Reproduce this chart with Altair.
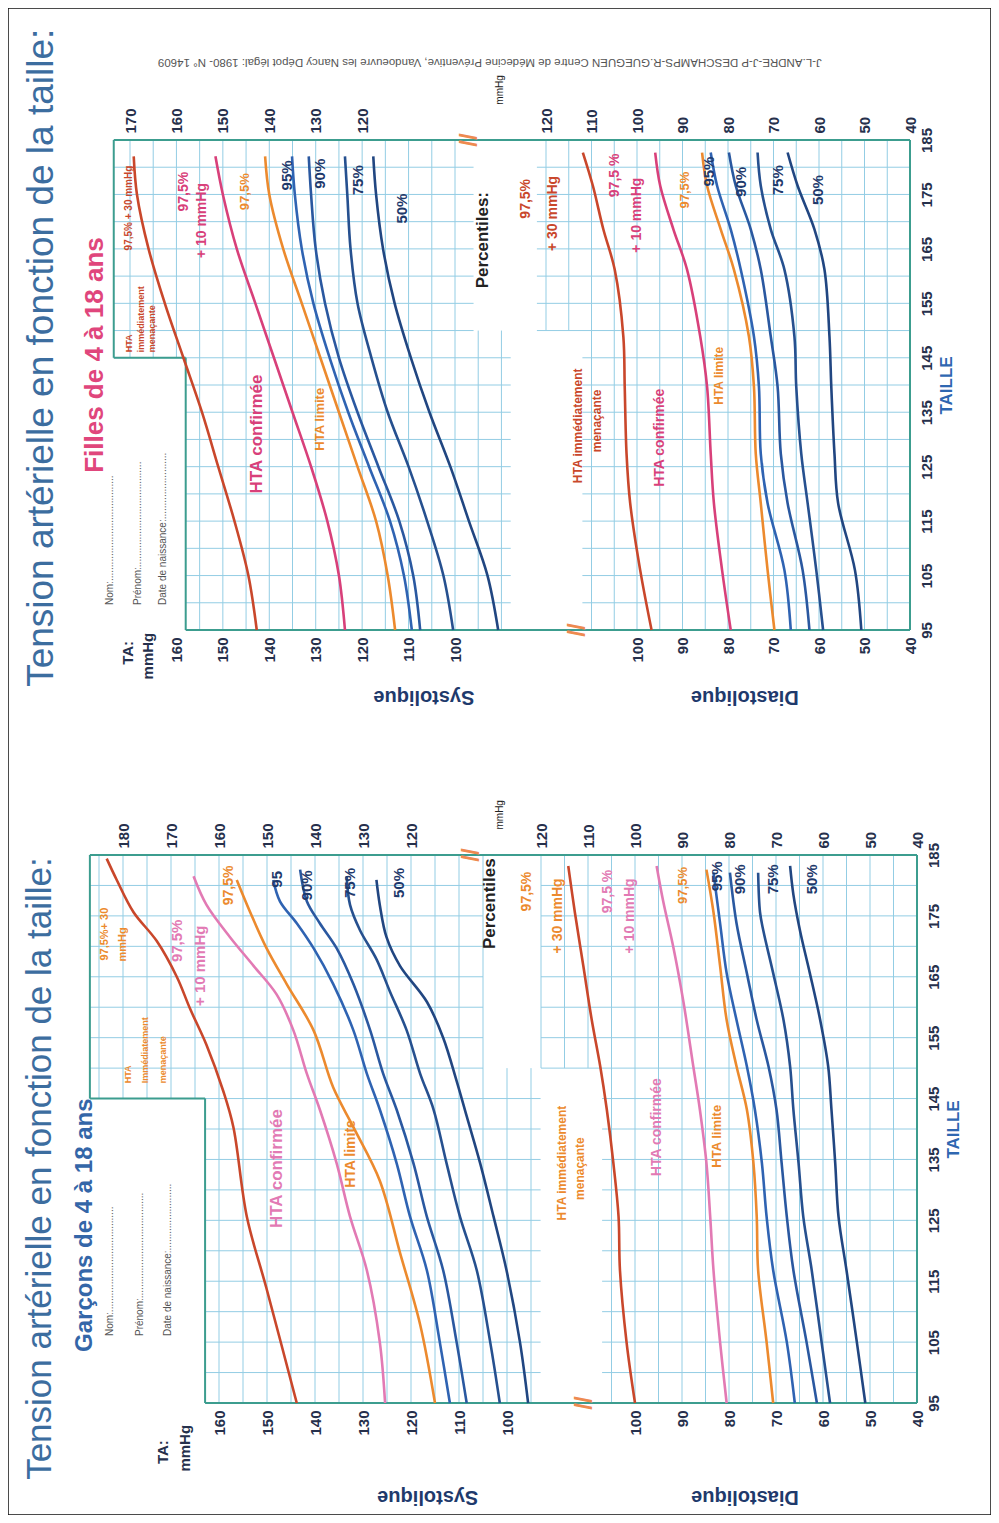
import altair as alt
import pandas as pd

W, H = 983, 1507
OFF = 8
FONT = "Liberation Sans"

# ---------------- values ----------------
# Girls (Filles) - systolic, mmHg vs height (cm)
G_SYS_T = [95, 105, 115, 125, 135, 145, 155, 165, 175, 182]
G_SYS_P30 = [142.7, 144.5, 147.5, 151, 154.5, 158.5, 162.5, 166, 168.5, 169.2]
G_SYS_P10 = [123.7, 125, 127.5, 131, 135, 139, 143, 147, 150, 151.6]
G_SYS_975 = [112.9, 114.5, 117, 121, 125, 129, 133, 137, 140, 140.9]
G_SYS_95 = [109.3, 111, 114, 118.5, 123, 127, 130.5, 133, 134.5, 135.1]
G_SYS_90 = [107.5, 109, 112, 116.5, 121, 125, 128, 130, 131, 131.5]
G_SYS_75 = [100.4, 102.5, 106, 110, 114.5, 118, 121, 122.5, 123.2, 123.7]
G_SYS_50 = [90.7, 93, 97, 101, 105.5, 109.5, 113, 115.5, 117, 117.6]

# Girls - diastolic
G_DIA_T = [95, 106, 118.3, 127.4, 139.7, 148.9, 161.2, 168.6, 176.6, 182.7]
G_DIA_P30 = [96.8, 99.3, 101.5, 102.3, 102.7, 103, 104.9, 107.4, 109.7, 111.9]
G_DIA_P10 = [79.4, 81.3, 83.1, 83.8, 84.6, 86.1, 89, 92, 94.9, 96]
G_DIA_975 = [69.8, 71.3, 72.8, 73.9, 74.3, 75.4, 78.7, 81.6, 84.6, 85.7]
G_DIA_95 = [66.2, 67.6, 71.3, 72.8, 73.2, 74.3, 77.2, 79.4, 82.4, 83.8]
G_DIA_90 = [62.1, 63.6, 66.9, 68.4, 69.1, 70.6, 72.8, 75, 78.3, 79.8]
G_DIA_75 = [59.1, 60.6, 62.5, 63.9, 65, 65.4, 67.6, 70.6, 72.8, 73.5]
G_DIA_50 = [50.7, 52.1, 55.8, 56.6, 57.3, 57.7, 58.8, 61, 64.7, 66.9]

# Boys (Garçons) - systolic
B_SYS_P30_T = [95, 113.8, 125.6, 140.3, 146.2, 153.8, 159.7, 165, 170.9, 175.6, 180.9, 184.4]
B_SYS_P30 = [143.8, 150.1, 154.2, 157, 159.1, 162.6, 166, 168.8, 173, 177.8, 181.3, 183.4]
B_SYS_P10_T = [95, 105, 116.8, 125.6, 134.4, 143.2, 149.1, 156.2, 162.1, 166.8, 171.5, 176.8, 181.5]
B_SYS_P10 = [125.4, 126.5, 129.2, 132.7, 135.5, 139, 141.7, 144.5, 148, 152.8, 157.7, 162.6, 165.3]
B_SYS_975_T = [95, 107.9, 119.7, 131.5, 140.3, 146.8, 156.2, 163.8, 169.7, 175.6, 180.9]
B_SYS_975 = [115, 118.1, 122.3, 126.5, 132, 136.2, 140.3, 145.9, 150.1, 153.5, 156.3]
B_SYS_95_T = [95, 105, 116.8, 125.6, 134.4, 143.2, 149.1, 156.2, 163.8, 169.7, 173.8, 177.4, 180.9]
B_SYS_95 = [111.9, 114, 116.7, 120.2, 123, 126.5, 129.2, 132, 136.2, 140.3, 143.8, 147.3, 148.7]
B_SYS_90_T = [95, 105, 116.8, 125.6, 134.4, 143.2, 149.1, 156.2, 163.8, 169.7, 173.8, 177.4, 182.6]
B_SYS_90 = [108.4, 110.5, 113.3, 116.7, 119.5, 123, 125.8, 128.5, 132, 135.5, 139, 141.7, 143.1]
B_SYS_75_T = [95, 105, 116.8, 125.6, 134.4, 143.2, 149.1, 156.2, 162.6, 167.9, 172.6, 176.8, 181.5]
B_SYS_75 = [101.5, 103.5, 106.3, 109.8, 112.6, 115.3, 118.1, 120.9, 124.4, 127.2, 130.6, 132.7, 133.4]
B_SYS_50_T = [95, 105, 116.8, 125.6, 134.4, 142.1, 147.9, 155, 160.9, 166.8, 171.5, 176.8, 180.9]
B_SYS_50 = [95.6, 97.3, 100.1, 102.8, 105.6, 108.4, 110.5, 113.3, 116.7, 122.3, 125.1, 126.5, 127.2]

# Boys - diastolic
B_DIA_P30_T = [95, 105, 116.8, 125.6, 134.4, 143.2, 150.3, 157.9, 166.8, 175.6, 183.2]
B_DIA_P30 = [100, 101.8, 103.2, 103.5, 104.6, 106, 107.4, 109.2, 111, 112.8, 114.2]
B_DIA_P10_T = [95, 105, 116.8, 125.6, 134.4, 143.2, 150.3, 160.9, 169.7, 177.4, 183.2]
B_DIA_P10 = [80.5, 81.9, 83.3, 84, 84.8, 86.2, 87.6, 89.7, 91.8, 94, 95.4]
B_DIA_975_T = [95, 105, 116.8, 125.6, 134.4, 143.2, 150.3, 157.9, 166.8, 175.6, 182.6]
B_DIA_975 = [70.6, 72, 73.8, 74.1, 74.8, 76.2, 78.4, 80.5, 81.9, 83.3, 84.8]
B_DIA_95_T = [95, 105, 116.8, 125.6, 134.4, 143.2, 150.3, 157.9, 165.6, 173.8, 182.1]
B_DIA_95 = [66, 67.7, 70.6, 72, 73, 74.5, 76.2, 78.4, 80.5, 81.9, 83.3]
B_DIA_90_T = [95, 105, 116.8, 125.6, 134.4, 143.2, 150.3, 157.9, 165.6, 173.8, 182.1]
B_DIA_90 = [61.3, 63.5, 66.3, 67.7, 68.8, 69.9, 71.6, 74.1, 76.2, 78.4, 79.8]
B_DIA_75_T = [95, 105, 116.8, 125.6, 134.4, 143.2, 150.3, 157.9, 165.6, 172.6, 175.6, 182.1]
B_DIA_75 = [58.5, 60.3, 62.4, 64.2, 65.2, 66.3, 67, 68.4, 70.6, 72.7, 73.4, 73.8]
B_DIA_50_T = [95, 105, 116.8, 125.6, 134.4, 143.2, 150.3, 157.9, 165.6, 172.6, 178.5, 183.2]
B_DIA_50 = [51, 52.8, 55, 56.7, 57.4, 58.2, 58.9, 60.6, 62.8, 64.9, 66.3, 67]

# tick labels
TAILLE_TICKS = [95, 105, 115, 125, 135, 145, 155, 165, 175, 185]
G_SYS_BOTTOM = [160, 150, 140, 130, 120, 110, 100]
G_SYS_TOP = [170, 160, 150, 140, 130, 120]
B_SYS_BOTTOM = [160, 150, 140, 130, 120, 110, 100]
B_SYS_TOP = [180, 170, 160, 150, 140, 130, 120]
DIA_BOTTOM = [100, 90, 80, 70, 60, 50, 40]
DIA_TOP = [120, 110, 100, 90, 80, 70, 60, 50, 40]

# ---------------- colours ----------------
RED = "#c9472b"
PINK_G = "#d8407a"
PINK_B = "#e27ab4"
ORANGE = "#ec8a2e"
BLUES = {"95": "#2f63b2", "90": "#2a58a0", "75": "#26508f", "50": "#214681"}
GRID = "#93cde4"
FRAME = "#3c9d8f"
LABEL = "#26304c"
NAVY = "#1f3a6c"
TITLE_C = "#3c6d9f"

# ---------------- panel geometry (page pixels) ----------------
PANELS = {
    "G": dict(y95=630, y185=140, sys=((170, 130), (100, 455)), dia=((120, 546), (40, 910)),
              lower=158, upper=173.5, notch=145,
              sys_end_lo=88, sys_end_hi=96, dia_start_lo=112, dia_start_hi=122, split=150,
              right_x=912),
    "B": dict(y95=1403, y185=855, sys=((180, 123), (100, 507)), dia=((120, 541), (40, 917)),
              lower=162.9, upper=186.9, notch=145,
              sys_end_lo=93, sys_end_hi=105, dia_start_lo=107, dia_start_hi=120, split=150,
              right_x=919),
}


def xsc(p, kind):
    (v1, x1), (v2, x2) = PANELS[p][kind]
    return alt.Scale(domain=[v1, v2], range=[x1 - OFF, x2 - OFF], nice=False, zero=False)


def ysc(p):
    g = PANELS[p]
    return alt.Scale(domain=[95, 185], range=[g["y95"] - OFF, g["y185"] - OFF], nice=False, zero=False)


def curve(p, kind, t, v, color, width=2.6):
    df = pd.DataFrame({"t": t, "v": v})
    return alt.Chart(df).mark_line(color=color, strokeWidth=width, interpolate="catmull-rom").encode(
        x=alt.X("v:Q", scale=xsc(p, kind), axis=None),
        y=alt.Y("t:Q", scale=ysc(p), axis=None),
        order="t:Q",
    )


def vrules(p, kind, rows, color, width):
    df = pd.DataFrame(rows, columns=["v", "t1", "t2"])
    return alt.Chart(df).mark_rule(color=color, strokeWidth=width).encode(
        x=alt.X("v:Q", scale=xsc(p, kind), axis=None),
        y=alt.Y("t1:Q", scale=ysc(p), axis=None),
        y2="t2:Q",
    )


def hrules(p, kind, rows, color, width):
    df = pd.DataFrame(rows, columns=["t", "v1", "v2"])
    return alt.Chart(df).mark_rule(color=color, strokeWidth=width).encode(
        x=alt.X("v1:Q", scale=xsc(p, kind), axis=None),
        x2="v2:Q",
        y=alt.Y("t:Q", scale=ysc(p), axis=None),
    )


def texts(p, kind, rows, color, size, weight="bold", angle=270, align="center",
          baseline="middle", font=FONT):
    df = pd.DataFrame(rows, columns=["label", "v", "t"])
    return alt.Chart(df).mark_text(angle=angle, align=align, baseline=baseline, color=color,
                                   fontSize=size, fontWeight=weight, font=font).encode(
        x=alt.X("v:Q", scale=xsc(p, kind), axis=None),
        y=alt.Y("t:Q", scale=ysc(p), axis=None),
        text="label:N",
    )


def x_axis(p, kind, ticks, orient):
    g = PANELS[p]
    if orient == "bottom":
        offset = (g["y95"] - OFF) - H
        align = "right"
    else:
        offset = -(g["y185"] - OFF)
        align = "left"
    ax = alt.Axis(values=ticks, orient=orient, offset=offset, labelAngle=270, labelAlign=align,
                  labelBaseline="middle", ticks=False, domain=False, grid=False, title=None,
                  labelFont=FONT, labelFontSize=15, labelFontWeight="bold", labelColor=LABEL,
                  labelPadding=7, labelOverlap=False, labelFlush=False)
    df = pd.DataFrame({"v": ticks, "t": [140] * len(ticks)})
    return alt.Chart(df).mark_point(opacity=0).encode(
        x=alt.X("v:Q", scale=xsc(p, kind), axis=ax),
        y=alt.Y("t:Q", scale=ysc(p), axis=None),
    )


def taille_axis(p):
    g = PANELS[p]
    ax = alt.Axis(values=TAILLE_TICKS, orient="right", offset=(g["right_x"] - OFF) - W,
                  labelAngle=270, labelAlign="center", labelBaseline="top", ticks=False,
                  domain=False, grid=False, title="TAILLE", titleAngle=270, titleBaseline="top",
                  titleColor="#2f67b1", titleFont=FONT, titleFontSize=17, titleFontWeight="bold",
                  titlePadding=4, labelFont=FONT, labelFontSize=15, labelFontWeight="bold",
                  labelColor=LABEL, labelPadding=7, labelOverlap=False, labelFlush=False)
    df = pd.DataFrame({"t": TAILLE_TICKS, "v": [40] * len(TAILLE_TICKS)})
    return alt.Chart(df).mark_point(opacity=0).encode(
        x=alt.X("v:Q", scale=xsc(p, "dia"), axis=None),
        y=alt.Y("t:Q", scale=ysc(p), axis=ax),
    )


def grid_and_frame(p, sys_grid, dia_grid):
    g = PANELS[p]
    lo, up, notch, split = g["lower"], g["upper"], g["notch"], g["split"]
    vs = []
    for v in sys_grid:
        if v < g["sys_end_lo"]:
            continue
        t1 = 95 if v <= lo else notch
        t2 = 185 if v >= g["sys_end_hi"] else split
        vs.append((v, t1, t2))
    vd = []
    for v in dia_grid:
        if v > g["dia_start_hi"]:
            continue
        t1 = 95 if v <= g["dia_start_lo"] else split
        vd.append((v, t1, 185))
    hs, hd = [], []
    for t in range(100, 185, 5):
        left = up if t >= notch else lo
        hi = t >= split
        hs.append((t, left, g["sys_end_hi"] if hi else g["sys_end_lo"]))
        hd.append((t, g["dia_start_hi"] if hi else g["dia_start_lo"], 40))
    return [
        vrules(p, "sys", vs, GRID, 1),
        vrules(p, "dia", vd, GRID, 1),
        hrules(p, "sys", hs, GRID, 1),
        hrules(p, "dia", hd, GRID, 1),
        vrules(p, "sys", [(up, notch, 185), (lo, 95, notch)], FRAME, 2),
        hrules(p, "sys", [(notch, up, lo), (185, up, 80), (95, lo, 80)], FRAME, 2),
        hrules(p, "dia", [(185, 130, 40), (95, 130, 40)], FRAME, 2),
        vrules(p, "dia", [(40, 95, 185)], FRAME, 2),
    ]


DOTS = "......................................"
layers = []

# ================= GIRLS =================
p = "G"
layers += grid_and_frame(p, list(range(85, 171, 5)), list(range(40, 126, 5)))
layers += [
    curve(p, "sys", G_SYS_T, G_SYS_50, BLUES["50"]),
    curve(p, "sys", G_SYS_T, G_SYS_75, BLUES["75"]),
    curve(p, "sys", G_SYS_T, G_SYS_90, BLUES["90"]),
    curve(p, "sys", G_SYS_T, G_SYS_95, BLUES["95"]),
    curve(p, "sys", G_SYS_T, G_SYS_975, ORANGE),
    curve(p, "sys", G_SYS_T, G_SYS_P10, PINK_G),
    curve(p, "sys", G_SYS_T, G_SYS_P30, RED),
    curve(p, "dia", G_DIA_T, G_DIA_50, BLUES["50"]),
    curve(p, "dia", G_DIA_T, G_DIA_75, BLUES["75"]),
    curve(p, "dia", G_DIA_T, G_DIA_90, BLUES["90"]),
    curve(p, "dia", G_DIA_T, G_DIA_95, BLUES["95"]),
    curve(p, "dia", G_DIA_T, G_DIA_975, ORANGE),
    curve(p, "dia", G_DIA_T, G_DIA_P10, PINK_G),
    curve(p, "dia", G_DIA_T, G_DIA_P30, RED),
    x_axis(p, "sys", G_SYS_BOTTOM, "bottom"),
    x_axis(p, "dia", DIA_BOTTOM, "bottom"),
    x_axis(p, "sys", G_SYS_TOP, "top"),
    x_axis(p, "dia", DIA_TOP, "top"),
    taille_axis(p),
    texts(p, "sys", [("HTA confirmée", 142.7, 131)], PINK_G, 17),
    texts(p, "sys", [("HTA limite", 129, 133.7)], ORANGE, 13),
    texts(p, "sys", [("97,5%", 145.2, 175.5)], ORANGE, 13),
    texts(p, "sys", [("97,5%", 158.4, 175.5), ("+ 10 mmHg", 154.5, 170.2)], PINK_G, 14),
    texts(p, "sys", [("97,5% + 30 mmHg", 170.3, 172.5)], RED, 10),
    texts(p, "sys", [("HTA", 170.3, 146), ("immédiatement", 167.7, 146), ("menaçante", 165.2, 146)],
          RED, 9, align="left"),
    texts(p, "sys", [("95%", 136.2, 178.5), ("90%", 129, 178.8), ("75%", 120.8, 177.6),
                     ("50%", 111.5, 172.4)], NAVY, 15),
    texts(p, "sys", [("Percentiles:", 93.9, 166.6)], "#222222", 17),
    texts(p, "dia", [("97,5%", 124.4, 174.2), ("+ 30 mmHg", 118.5, 171.5)], RED, 14),
    texts(p, "dia", [("97,5 %", 104.9, 178.5), ("+ 10 mmHg", 100.1, 171.2)], PINK_G, 14),
    texts(p, "dia", [("97,5%", 89.4, 175.8)], ORANGE, 13),
    texts(p, "dia", [("95%", 84.2, 179.2), ("90%", 77.2, 177.3), ("75%", 69.1, 177.6),
                     ("50%", 60.3, 175.8)], NAVY, 15),
    texts(p, "dia", [("HTA immédiatement", 113, 132.5), ("menaçante", 108.9, 133.4)], RED, 12),
    texts(p, "dia", [("HTA confirmée", 94.9, 130.3)], PINK_G, 14),
    texts(p, "dia", [("HTA limite", 82, 141.7)], ORANGE, 12),
    texts(p, "dia", [("mmHg", 130.1, 194.2)], "#222222", 10, weight="normal"),
    texts(p, "dia", [("//", 113, 95), ("//", 136.7, 185)], "#ee8a50", 24),
    texts(p, "sys", [("Tension artérielle en fonction de la taille:", 189, 145)], TITLE_C, 37,
          weight="normal"),
    texts(p, "sys", [("Filles de 4 à 18 ans", 177.5, 145.5)], "#e0467c", 26),
    texts(p, "sys", [("Nom:" + DOTS, 174.3, 99.6),
                     ("Prénom:" + DOTS, 168.3, 99.6),
                     ("Date de naissance:" + DOTS[:24], 162.9, 99.6)], "#555555", 10,
          weight="normal", align="left"),
    texts(p, "sys", [("TA:", 170.4, 93), ("mmHg", 166.1, 94.5)], LABEL, 15, align="right"),
    texts(p, "sys", [("Systolique", 106.7, 82.7)], NAVY, 20, angle=180),
    texts(p, "dia", [("Diastolique", 76.3, 82.7)], NAVY, 20, angle=180),
    texts(p, "sys", [("J-L.ANDRE-J-P DESCHAMPS-R.GUEGUEN Centre de Médecine Préventive, "
                      "Vandoeuvre les Nancy  Dépot légal: 1980- N° 14609", 92.5, 199.3)],
          "#555555", 11.5, weight="normal", angle=180),
]

# ================= BOYS =================
p = "B"
layers += grid_and_frame(p, list(range(90, 186, 5)), list(range(40, 126, 5)))
layers += [
    curve(p, "sys", B_SYS_50_T, B_SYS_50, BLUES["50"]),
    curve(p, "sys", B_SYS_75_T, B_SYS_75, BLUES["75"]),
    curve(p, "sys", B_SYS_90_T, B_SYS_90, BLUES["90"]),
    curve(p, "sys", B_SYS_95_T, B_SYS_95, BLUES["95"]),
    curve(p, "sys", B_SYS_975_T, B_SYS_975, ORANGE),
    curve(p, "sys", B_SYS_P10_T, B_SYS_P10, PINK_B),
    curve(p, "sys", B_SYS_P30_T, B_SYS_P30, RED),
    curve(p, "dia", B_DIA_50_T, B_DIA_50, BLUES["50"]),
    curve(p, "dia", B_DIA_75_T, B_DIA_75, BLUES["75"]),
    curve(p, "dia", B_DIA_90_T, B_DIA_90, BLUES["90"]),
    curve(p, "dia", B_DIA_95_T, B_DIA_95, BLUES["95"]),
    curve(p, "dia", B_DIA_975_T, B_DIA_975, ORANGE),
    curve(p, "dia", B_DIA_P10_T, B_DIA_P10, PINK_B),
    curve(p, "dia", B_DIA_P30_T, B_DIA_P30, RED),
    x_axis(p, "sys", B_SYS_BOTTOM, "bottom"),
    x_axis(p, "dia", DIA_BOTTOM, "bottom"),
    x_axis(p, "sys", B_SYS_TOP, "top"),
    x_axis(p, "dia", DIA_TOP, "top"),
    taille_axis(p),
    texts(p, "sys", [("HTA confirmée", 148, 133.5)], PINK_B, 17),
    texts(p, "sys", [("HTA limite", 132.4, 135.9)], ORANGE, 14),
    texts(p, "sys", [("97,5%+ 30", 183.8, 172), ("mmHg", 179.9, 170.3)], ORANGE, 11),
    texts(p, "sys", [("HTA", 178.9, 147.5), ("Immédiatement", 175.4, 147.5), ("menaçante", 171.6, 147.5)],
          ORANGE, 9, align="left"),
    texts(p, "sys", [("97,5%", 168.8, 170.9), ("+ 10 mmHg", 164, 166.8)], PINK_B, 15),
    texts(p, "sys", [("97,5%", 158, 180)], ORANGE, 14),
    texts(p, "sys", [("95", 148, 181), ("90%", 141.7, 180), ("75%", 132.7, 180.4),
                     ("50%", 122.6, 180.4)], NAVY, 15),
    texts(p, "sys", [("Percentiles", 103.5, 177)], "#222222", 17),
    texts(p, "dia", [("HTA immédiatement", 115.6, 134.4), ("menaçante", 111.7, 133.5)], ORANGE, 12),
    texts(p, "dia", [("HTA confirmée", 95.4, 140.3)], PINK_B, 14),
    texts(p, "dia", [("HTA limite", 82.6, 138.8)], ORANGE, 13),
    texts(p, "dia", [("97,5%", 123, 179), ("+ 30 mmHg", 116.3, 175)], ORANGE, 14),
    texts(p, "dia", [("97,5 %", 105.7, 179), ("+ 10 mmHg", 101, 175)], PINK_B, 14),
    texts(p, "dia", [("97,5%", 89.7, 180)], ORANGE, 13),
    texts(p, "dia", [("95%", 82.6, 181.5), ("90%", 77.7, 181), ("75%", 70.6, 181),
                     ("50%", 62.4, 181)], NAVY, 15),
    texts(p, "dia", [("mmHg", 128.7, 191.6)], "#222222", 10, weight="normal"),
    texts(p, "dia", [("//", 110.6, 95), ("//", 134.7, 185)], "#ee8a50", 24),
    texts(p, "sys", [("Tension artérielle en fonction de la taille:", 197.3, 133.5)], TITLE_C, 35,
          weight="normal"),
    texts(p, "sys", [("Garçons de 4 à 18 ans", 187.9, 124.2)], "#3466a8", 24),
    texts(p, "sys", [("Nom:" + DOTS, 182.7, 106),
                     ("Prénom:" + DOTS, 176.5, 106),
                     ("Date de naissance:" + DOTS[:24], 170.6, 106)], "#555555", 10,
          weight="normal", align="left"),
    texts(p, "sys", [("TA:", 171.7, 88.9), ("mmHg", 167.1, 91.4)], LABEL, 15, align="right"),
    texts(p, "sys", [("Systolique", 116.5, 79.6)], NAVY, 20, angle=180),
    texts(p, "dia", [("Diastolique", 76.6, 79.6)], NAVY, 20, angle=180),
]

chart = alt.layer(*layers).resolve_scale(x="independent", y="independent").properties(
    width=W, height=H, autosize=alt.AutoSizeParams(type="none"), padding=0
).configure_view(stroke="#111111", strokeWidth=1.5)

chart.save("out.html", embed_options={"renderer": "svg", "actions": False})
